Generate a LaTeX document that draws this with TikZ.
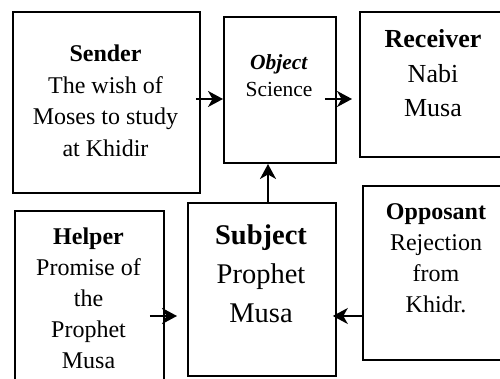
\documentclass[tikz,border=0pt]{standalone}
\usepackage{fontspec}
\setmainfont{Liberation Serif}
\usetikzlibrary{arrows.meta}

\tikzset{
  box/.style={draw, line width=1.8pt, inner sep=0pt, anchor=south west},
  lbl/.style={anchor=base, inner sep=0pt},
  arr/.style={line width=2pt, -{Stealth[length=15pt,width=16pt,inset=4.5pt]}}
}

% stacked, centred lines whose baseline is the first line
\newcommand{\stackedlines}[1]{\begin{tabular}[t]{@{}c@{}}#1\end{tabular}}

\begin{document}
\begin{tikzpicture}[x=1pt,y=1pt]
\useasboundingbox (0,0) rectangle (500,379);
\clip (0,0) rectangle (500,379);

% frames of the six actants
\node[box, minimum width=187, minimum height=181] (sender) at (12,185) {};
\node[box, minimum width=112, minimum height=146] (object) at (223,215) {};
\node[box, minimum width=148, minimum height=145] (receiver) at (359,221) {};
\node[box, minimum width=149, minimum height=178] (helper) at (14,-11) {};
\node[box, minimum width=148, minimum height=173] (subject) at (187,2) {};
\node[box, minimum width=148, minimum height=174] (opposant) at (362,18) {};

% texts
\node[lbl, font=\fontsize{24}{31.5}\selectfont] (sendertxt) at (105.5,317)
  {\stackedlines{\textbf{Sender}\\The wish of\\Moses to study\\at Khidir}};
\node[lbl, font=\fontsize{21.5}{27}\selectfont] (objecttxt) at (279,309)
  {\stackedlines{\textbf{\itshape Object}\\Science}};
\node[lbl, font=\fontsize{26}{34.5}\selectfont] (receivertxt) at (433,331)
  {\stackedlines{\textbf{Receiver}\\Nabi\\Musa}};
\node[lbl, font=\fontsize{24}{31}\selectfont] (helpertxt) at (88.5,134)
  {\stackedlines{\textbf{Helper}\\Promise of\\the\\Prophet\\Musa}};
\node[lbl, font=\fontsize{28.5}{39}\selectfont] (subjecttxt) at (261,134)
  {\stackedlines{\textbf{Subject}\\Prophet\\Musa}};
\node[lbl, font=\fontsize{24}{31}\selectfont] (opposanttxt) at (436,159)
  {\stackedlines{\textbf{Opposant}\\Rejection\\from\\Khidr.}};

% levels of the connectors
\coordinate (rowtop) at (0,280);
\coordinate (rowlow) at (0,63);
\coordinate (colmid) at (268,0);

% connectors
\draw[arr] ([xshift=-5pt]sender.east |- rowtop) -- (object.west |- rowtop);
\draw[arr] ([xshift=-12pt]object.east |- rowtop) -- ([xshift=-7pt]receiver.west |- rowtop);
\draw[arr] (colmid |- subject.north) -- (colmid |- object.south);
\draw[arr] ([xshift=-15pt]helper.east |- rowlow) -- ([xshift=-10pt]subject.west |- rowlow);
\draw[arr] ([xshift=1pt]opposant.west |- rowlow) -- ([xshift=-4pt]subject.east |- rowlow);
\end{tikzpicture}
\end{document}
